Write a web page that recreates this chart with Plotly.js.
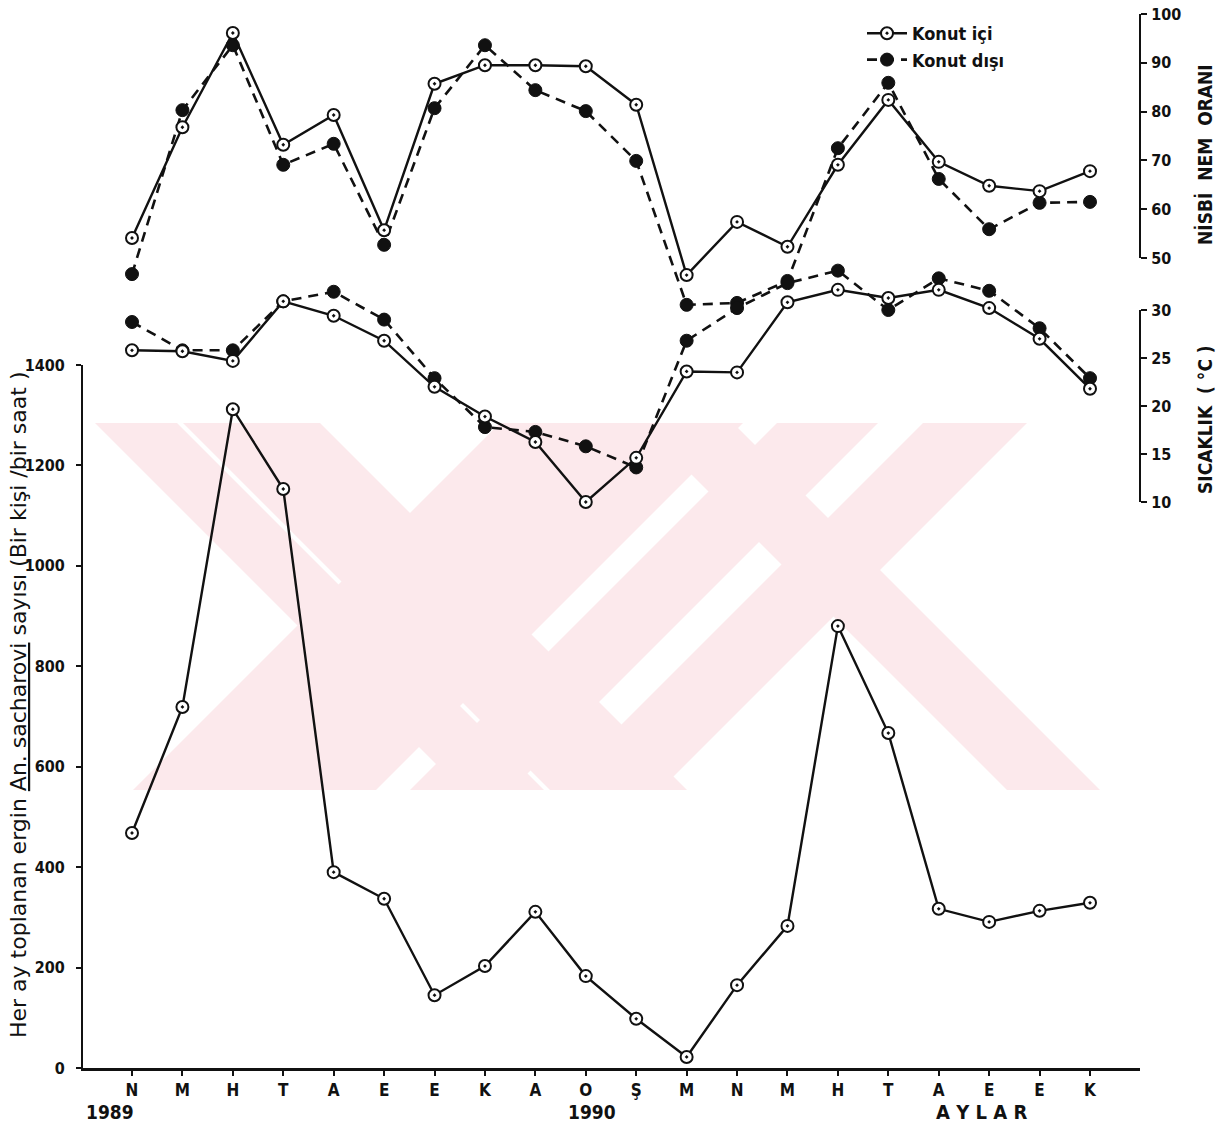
<!DOCTYPE html>
<html>
<head>
<meta charset="utf-8">
<script src="https://cdn.plot.ly/plotly-3.0.1.min.js"></script>
<style>
  html, body { margin: 0; padding: 0; background: #ffffff; }
  #chart { width: 1223px; height: 1129px; }
</style>
</head>
<body>
<div id="chart"></div>
<script>
// ---------- DATA ----------
const months = ['N','M','H','T','A','E','E','K','A','O','Ş','M','N','M','H','T','A','E','E','K'];
const monthIndex = months.map((m, i) => i);

// Adult An. sacharovi collected per month (per person / per hour)
const countInside = [468, 719, 1312, 1153, 390, 337, 145, 203, 311, 183, 98, 22, 165, 283, 880, 667, 317, 291, 313, 329];

// Relative humidity (%)
const humidityInside  = [54.1, 76.8, 96.1, 73.2, 79.3, 55.7, 85.7, 89.5, 89.5, 89.3, 81.4, 46.5, 57.4, 52.3, 69.1, 82.4, 69.7, 64.8, 63.7, 67.8];
const humidityOutside = [46.7, 80.3, 93.6, 69.1, 73.4, 52.7, 80.7, 93.6, 84.4, 80.1, 69.9, 40.4, 40.8, 45.3, 72.5, 85.9, 66.2, 55.9, 61.3, 61.5];

// Temperature (°C)
const tempInside  = [25.8, 25.7, 24.7, 30.9, 29.4, 26.8, 22.0, 18.9, 16.25, 10.0, 14.6, 23.6, 23.5, 30.8, 32.1, 31.25, 32.1, 30.2, 27.0, 21.8];
const tempOutside = [28.75, 25.8, 25.8, 30.9, 31.9, 29.0, 22.9, 17.8, 17.3, 15.8, 13.6, 26.8, 30.2, 32.8, 34.1, 30.0, 33.3, 32.0, 28.1, 22.9];

const countTicks = [0, 200, 400, 600, 800, 1000, 1200, 1400];
const humidityTicks = [50, 60, 70, 80, 90, 100];
const tempTicks = [10, 15, 20, 25, 30];

const legendInside = 'Konut içi';
const legendOutside = 'Konut dışı';

// ---------- LAYOUT GEOMETRY (pixels) ----------
const W = 1223, H = 1129;
const L = 83, R = 1140, T = 10, B = 1068;
const PW = R - L, PH = B - T;
const py = y => (B - y) / PH;   // pixel -> paper y
const px = x => (x - L) / PW;   // pixel -> paper x

const xStep = (1090 - 132) / 19;
const xRange = [-(132 - L) / xStep, 19 + (R - 1090) / xStep];

const countTopPx = 365;
const hBot = 258, hTop = 14;
const hk = (hBot - hTop) / 50;
const hRange = [50 - (B - hBot) / hk, 100 + (hTop - T) / hk];
const tBot = 502, tTop = 310;
const tk = (tBot - tTop) / 20;
const tRange = [10 - (B - tBot) / tk, 30 + (tTop - T) / tk];

const FONT = '"DejaVu Sans Condensed", "Liberation Sans Narrow", "Roboto Condensed", "DejaVu Sans", sans-serif';
const WIDEFONT = '"DejaVu Sans", "Noto Sans", sans-serif';
const INK = '#111111';

const openMarker = { symbol: 'circle-dot', size: 12, color: '#ffffff', line: { color: INK, width: 2 } };
const filledMarker = { symbol: 'circle', size: 13, color: INK, line: { color: INK, width: 1 } };
const solidLine = { color: INK, width: 2.4 };
const dashLine = { color: INK, width: 2.6, dash: '10px,7px' };

const traces = [
  { x: monthIndex, y: humidityOutside, yaxis: 'y2', mode: 'lines+markers', line: dashLine, marker: filledMarker,
    name: legendOutside, legendgroup: 'out', showlegend: true, legendrank: 2, hoverinfo: 'skip' },
  { x: monthIndex, y: humidityInside, yaxis: 'y2', mode: 'lines+markers', line: solidLine, marker: openMarker,
    name: legendInside, legendgroup: 'in', showlegend: true, legendrank: 1, hoverinfo: 'skip' },
  { x: monthIndex, y: tempOutside, yaxis: 'y3', mode: 'lines+markers', line: dashLine, marker: filledMarker,
    name: legendOutside, legendgroup: 'out', showlegend: false, hoverinfo: 'skip' },
  { x: monthIndex, y: tempInside, yaxis: 'y3', mode: 'lines+markers', line: solidLine, marker: openMarker,
    name: legendInside, legendgroup: 'in', showlegend: false, hoverinfo: 'skip' },
  { x: monthIndex, y: countInside, yaxis: 'y', mode: 'lines+markers', line: solidLine, marker: openMarker,
    name: 'An. sacharovi', showlegend: false, hoverinfo: 'skip' },
  { x: [null], y: [null], yaxis: 'y4', mode: 'markers', showlegend: false, hoverinfo: 'skip' },
  { x: [null], y: [null], yaxis: 'y5', mode: 'markers', showlegend: false, hoverinfo: 'skip' }
];

// watermark (light pink diagonal bands, decorative)
const wmTop = 423, wmBot = 790, wmH = wmBot - wmTop;
function band(x0, x1, dir) {
  const d = dir * wmH;
  return 'M' + px(x0) + ',' + py(wmTop) + ' L' + px(x1) + ',' + py(wmTop) +
         ' L' + px(x1 + d) + ',' + py(wmBot) + ' L' + px(x0 + d) + ',' + py(wmBot) + ' Z';
}
const wmColor = '#fce9ec';
const wmBands = [
  [95, 177, 1], [183, 320, 1], [640, 733, 1], [500, 743, -1], [777, 878, -1], [923, 1027, -1]
];
const shapes = wmBands.map(b => ({
  type: 'path', xref: 'paper', yref: 'paper', path: band(b[0], b[1], b[2]),
  fillcolor: wmColor, line: { width: 0 }, layer: 'below'
}));

const tickFont = { family: FONT, size: 16, color: INK, weight: 'bold' };
const titleFont = { family: FONT, size: 19, color: INK, weight: 'bold' };

function label(text, x, y, extra) {
  return Object.assign({ xref: 'paper', yref: 'paper', x: px(x), y: py(y), xanchor: 'center', yanchor: 'middle',
    showarrow: false, text: text, font: titleFont }, extra || {});
}

const layout = {
  width: W, height: H,
  margin: { l: L, r: W - R, t: T, b: H - B, pad: 0 },
  paper_bgcolor: '#ffffff', plot_bgcolor: 'rgba(0,0,0,0)',
  showlegend: true,
  legend: {
    x: px(862), y: py(15), xanchor: 'left', yanchor: 'top',
    bgcolor: 'rgba(0,0,0,0)', font: { family: FONT, size: 18, color: INK, weight: 'bold' },
    traceorder: 'normal', itemwidth: 40, tracegroupgap: 2
  },
  xaxis: {
    range: xRange, showgrid: false, zeroline: false, showline: true, linecolor: INK, linewidth: 2.5,
    tickmode: 'array', tickvals: monthIndex, ticktext: months,
    ticks: 'outside', ticklen: 5, tickwidth: 2, tickcolor: INK,
    tickfont: { family: FONT, size: 17, color: INK, weight: 'bold' }, ticklabelstandoff: 0
  },
  yaxis: {
    domain: [0, py(countTopPx)], range: [0, 1400],
    showgrid: false, zeroline: false, showline: true, linecolor: INK, linewidth: 2,
    tickmode: 'array', tickvals: countTicks, ticks: 'outside', ticklen: 5, tickwidth: 2, tickcolor: INK,
    tickfont: tickFont, ticklabelstandoff: 8
  },
  yaxis2: { domain: [0, 1], range: hRange, visible: false, anchor: 'x', fixedrange: true },
  yaxis3: { domain: [0, 1], range: tRange, visible: false, anchor: 'x', fixedrange: true },
  yaxis4: {
    domain: [py(hBot), py(hTop)], range: [50, 100], anchor: 'free', position: 1, side: 'right',
    showgrid: false, zeroline: false, showline: true, linecolor: INK, linewidth: 2,
    tickmode: 'array', tickvals: humidityTicks, ticks: 'outside', ticklen: 6, tickwidth: 2, tickcolor: INK,
    tickfont: tickFont, ticklabelstandoff: 1
  },
  yaxis5: {
    domain: [py(tBot), py(tTop)], range: [10, 30], anchor: 'free', position: 1, side: 'right',
    showgrid: false, zeroline: false, showline: true, linecolor: INK, linewidth: 2,
    tickmode: 'array', tickvals: tempTicks, ticks: 'outside', ticklen: 6, tickwidth: 2, tickcolor: INK,
    tickfont: tickFont, ticklabelstandoff: 1
  },
  shapes: shapes,
  annotations: [
    label('Her ay toplanan ergin <u>An. sacharovi</u> sayısı (Bir kişi /bir saat )', 19, 705,
      { textangle: -90, font: { family: WIDEFONT, size: 22, color: INK } }),
    label('NİSBİ  NEM  ORANI', 1205, 155, { textangle: -90 }),
    label('SICAKLIK  ( °C )', 1205, 420, { textangle: -90 }),
    label('1989', 84, 1112, { xanchor: 'left' }),
    label('1990', 566, 1112, { xanchor: 'left' }),
    label('A Y L A R', 934, 1112, { xanchor: 'left', font: { family: FONT, size: 20, color: INK, weight: 'bold' } })
  ]
};

Plotly.newPlot('chart', traces, layout, { staticPlot: true, displayModeBar: false });
</script>
</body>
</html>
